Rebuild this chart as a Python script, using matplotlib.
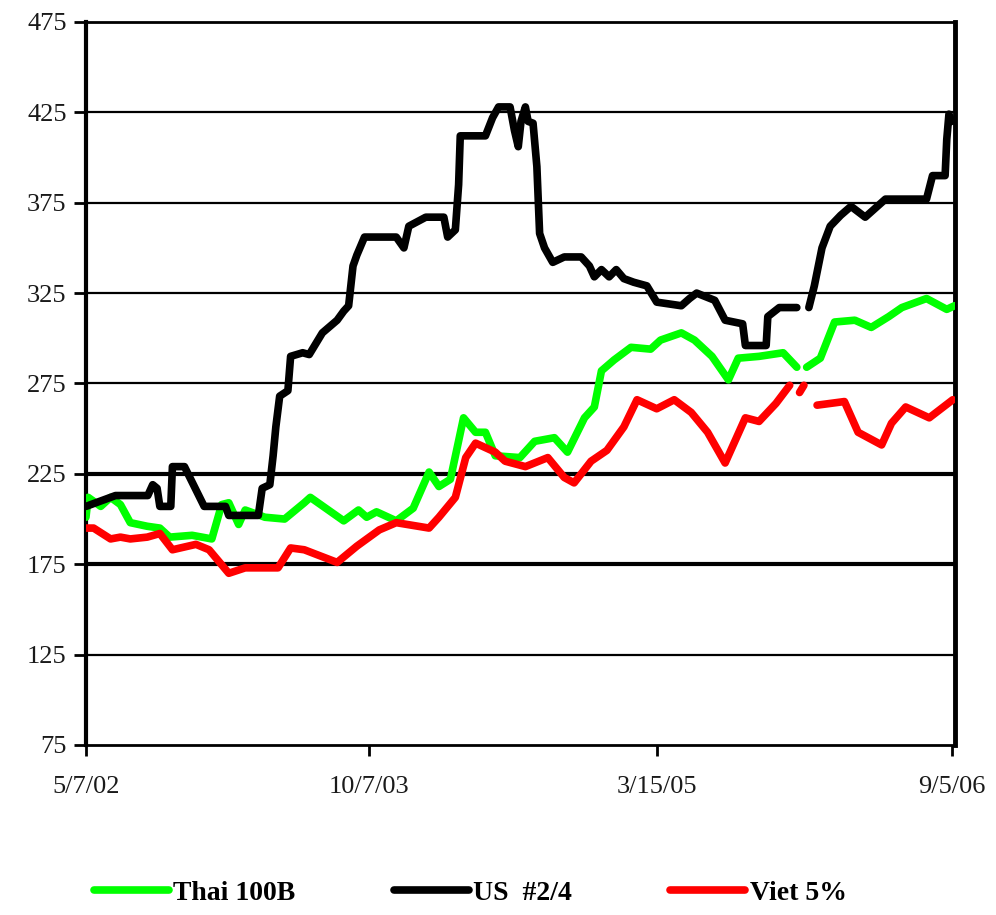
import numpy as np
import pandas as pd
import matplotlib
matplotlib.use("Agg")
import matplotlib.pyplot as plt

nan = np.nan

# US #2/4 (black)
us_dates = ["2002-05-07", "2002-06-30", "2002-08-28", "2002-09-06", "2002-09-14", "2002-09-19",
            "2002-10-09", "2002-10-12", "2002-11-03", "2002-11-21", "2002-12-09", "2003-01-17",
            "2003-01-23", "2003-03-18", "2003-03-25", "2003-04-08", "2003-04-14", "2003-04-19",
            "2003-04-26", "2003-05-11", "2003-05-16", "2003-06-07", "2003-06-19", "2003-07-13",
            "2003-08-09", "2003-08-21", "2003-08-30", "2003-09-07", "2003-09-14", "2003-09-28",
            "2003-11-25", "2003-12-09", "2003-12-18", "2004-01-18", "2004-02-20", "2004-02-27",
            "2004-03-12", "2004-03-18", "2004-03-21", "2004-05-06", "2004-05-19", "2004-05-30",
            "2004-06-20", "2004-06-28", "2004-07-05", "2004-07-10", "2004-07-18", "2004-07-23",
            "2004-08-01", "2004-08-08", "2004-08-13", "2004-08-22", "2004-09-06", "2004-09-27",
            "2004-10-28", "2004-11-12", "2004-11-21", "2004-12-04", "2004-12-18", "2004-12-31",
            "2005-01-14", "2005-02-01", "2005-02-25", "2005-03-15", "2005-04-29", "2005-05-14",
            "2005-05-27", "2005-06-29", "2005-07-18", "2005-08-19", "2005-08-24", "2005-10-01",
            "2005-10-04", "2005-10-25", "2005-11-26", "2005-12-07", "2005-12-18", "2005-12-28",
            "2006-01-11", "2006-01-26", "2006-02-14", "2006-03-05", "2006-03-31", "2006-05-07",
            "2006-07-21", "2006-08-01", "2006-08-24", "2006-08-27", "2006-08-31", "2006-09-05"]
us_vals = [207, 213, 213, 219, 217, 207,
           207, 229, 229, 218, 207, 207,
           202, 202, 217, 219, 235, 251,
           268, 271, 290, 292, 291, 303,
           310, 315, 318, 340, 346, 356,
           356, 350, 362, 367, 367, 356,
           360, 385, 412, 412, 422, 428,
           428, 415, 406, 420, 428, 420,
           419, 395, 358, 350, 342, 345,
           345, 340, 334, 338, 334, 338,
           333, 331, 329, 320, 318, 322,
           325, 321, 310, 308, 296, 296,
           312, 317, 317, nan, 317, 329,
           350, 362, 368, 373, 367, 377,
           377, 390, 390, 410, 424, 420]

# Thai 100B (green)
thai_dates = ["2002-05-07", "2002-05-11", "2002-06-03", "2002-06-21", "2002-07-09", "2002-07-27",
              "2002-08-27", "2002-09-19", "2002-10-07", "2002-11-17", "2002-12-23", "2003-01-10",
              "2003-01-23", "2003-02-10", "2003-02-22", "2003-03-30", "2003-05-05", "2003-06-10",
              "2003-06-21", "2003-08-21", "2003-09-17", "2003-10-02", "2003-10-20", "2003-11-25",
              "2003-12-26", "2004-01-24", "2004-02-11", "2004-03-03", "2004-03-27", "2004-04-18",
              "2004-05-06", "2004-05-24", "2004-07-08", "2004-08-04", "2004-09-09", "2004-10-03",
              "2004-11-03", "2004-11-21", "2004-12-04", "2004-12-27", "2005-01-27", "2005-03-04",
              "2005-03-22", "2005-04-29", "2005-05-23", "2005-06-24", "2005-07-24", "2005-08-11",
              "2005-09-18", "2005-11-01", "2005-11-26", "2005-12-05", "2005-12-14", "2006-01-08",
              "2006-02-03", "2006-03-12", "2006-04-11", "2006-05-13", "2006-06-06", "2006-07-21",
              "2006-08-27", "2006-09-10"]
thai_vals = [201, 212, 207, 212, 208, 198,
             196, 195, 190, 191, 189, 208,
             209, 197, 205, 201, 200, 209,
             212, 199, 205, 201, 204, 199,
             206, 226, 218, 222, 256, 248,
             248, 235, 234, 243, 245, 237,
             256, 262, 282, 288, 295, 294,
             299, 303, 299, 290, 277, 289,
             290, 292, 284, nan, 284, 289,
             309, 310, 306, 312, 317, 322,
             316, 318]

# Viet 5% (red)
viet_dates = ["2002-05-07", "2002-05-21", "2002-06-21", "2002-07-09", "2002-07-27", "2002-08-27",
              "2002-09-19", "2002-10-12", "2002-11-24", "2002-12-18", "2003-01-23", "2003-02-22",
              "2003-04-23", "2003-05-16", "2003-06-10", "2003-08-09", "2003-09-14", "2003-10-25",
              "2003-11-25", "2004-01-24", "2004-02-11", "2004-03-12", "2004-03-31", "2004-04-18",
              "2004-05-24", "2004-06-11", "2004-07-18", "2004-08-28", "2004-09-27", "2004-10-15",
              "2004-11-15", "2004-12-14", "2005-01-14", "2005-02-07", "2005-03-15", "2005-04-16",
              "2005-05-17", "2005-06-16", "2005-07-18", "2005-08-24", "2005-09-18", "2005-10-19",
              "2005-11-13", "2005-11-22", "2005-12-01", "2005-12-09", "2005-12-20", "2006-01-02",
              "2006-02-21", "2006-03-18", "2006-04-30", "2006-05-18", "2006-06-13", "2006-07-26",
              "2006-09-07"]
viet_vals = [195, 195, 189, 190, 189, 190,
             192, 183, 186, 183, 170, 173,
             173, 184, 183, 176, 185, 194,
             198, 195, 201, 212, 234, 242,
             237, 232, 229, 234, 223, 220,
             232, 238, 251, 266, 261, 266,
             259, 248, 231, 256, 254, 264,
             274, nan, 270, 274, nan, 263,
             265, 248, 241, 253, 262, 256,
             266]

tick_dates = ["2002-05-07", "2003-10-07", "2005-03-15", "2006-09-05"]
tick_labels = ["5/7/02", "10/7/03", "3/15/05", "9/5/06"]

fig = plt.figure(figsize=(9.96, 9.15), dpi=100)
ax = fig.add_axes([0.0863, 0.1858, 0.8725, 0.7902])

serif = ["Liberation Serif", "DejaVu Serif"]

# horizontal grid lines, two of them look heavier in the original
for v in [125, 175, 225, 275, 325, 375, 425]:
    lw = 3.0 if v in (175, 225) else 1.6
    ax.axhline(v, color="black", lw=lw, zorder=1)

ax.plot(pd.to_datetime(thai_dates), thai_vals, color="#00ff00", lw=5.5,
        solid_capstyle="round", label="Thai 100B", zorder=3)
ax.plot(pd.to_datetime(us_dates), us_vals, color="black", lw=5.5,
        solid_capstyle="round", label="US  #2/4", zorder=3)
ax.plot(pd.to_datetime(viet_dates), viet_vals, color="#ff0000", lw=5.5,
        solid_capstyle="round", label="Viet 5%", zorder=3)

ax.set_ylim(75, 475)
ax.set_yticks(range(75, 476, 50))
ax.set_xlim(pd.Timestamp("2002-05-07"), pd.Timestamp("2006-09-11"))
ax.set_xticks(pd.to_datetime(tick_dates))
ax.set_xticklabels(tick_labels)

for lab in ax.get_xticklabels() + ax.get_yticklabels():
    lab.set_family(serif)
    lab.set_fontsize(19)
    lab.set_color("#1a1a1a")
ax.tick_params(axis="y", direction="out", length=9, width=2, pad=5)
ax.tick_params(axis="x", direction="out", length=8, width=2, pad=14)

ax.spines["left"].set_linewidth(3)
ax.spines["right"].set_linewidth(3.5)
ax.spines["top"].set_linewidth(2)
ax.spines["bottom"].set_linewidth(2)

fig.legend(loc="center", bbox_to_anchor=(0.472, 0.024), ncol=3, frameon=False,
           prop={"family": serif, "weight": "bold", "size": 20},
           handlelength=2.7, handletextpad=0.15, columnspacing=3.55)

fig.savefig("out.png", dpi=100, facecolor="white")
